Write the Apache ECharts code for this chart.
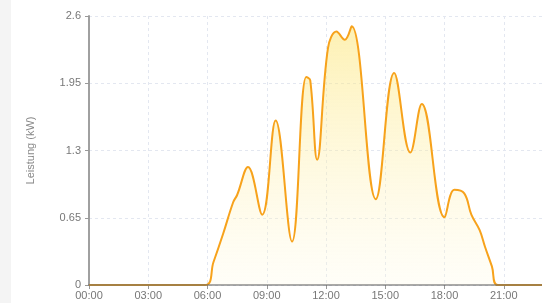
<!DOCTYPE html>
<html>
<head>
	<title></title>
	<script src="https://cdn.jsdelivr.net/npm/echarts@6/dist/echarts.min.js"></script>
	<style>
	html, body{
		margin: 0;
		height: 100%;
		background-color: #f4f4f4;
	}
	#main{
		margin-left: 11px;
		width: 531px;
		height: 303px;
		background-color: #ffffff;
	}
	</style>
</head>
<body>
	<div id="main"></div>
	<script>
		var myChart = echarts.init(document.getElementById("main"));

		// Stunde des Tages
		var hours = [0, 5.87, 6.3, 6.8, 7.3, 7.5, 8.05, 8.77, 9.45, 10.28, 11.0, 11.2, 11.55, 12.1, 12.53, 12.95, 13.3,
			14.52, 15.45, 16.27, 16.85, 18.0, 18.5, 19.0, 19.36, 19.78, 20.05, 20.4, 20.7, 24];
		// Leistung in kW
		var leistung = [0, 0, 0.22, 0.5, 0.8, 0.87, 1.14, 0.68, 1.59, 0.42, 2.01, 1.98, 1.21, 2.29, 2.45, 2.37, 2.5,
			0.83, 2.05, 1.28, 1.75, 0.655, 0.92, 0.885, 0.68, 0.53, 0.37, 0.18, 0, 0];
		var yTicks = [0, 0.65, 1.3, 1.95, 2.6];

		var data = [];
		for (var i = 0; i < hours.length; i++) {
			data.push([hours[i], leistung[i]]);
		}

		var labelColor = '#777';
		var gridColor = '#e3e7f0';
		var font = 'Liberation Sans, Arial, sans-serif';

		option = {
			animation: false,
			grid: {
				left: 78,
				top: 16,
				bottom: 18,
				right: -21,
				outerBoundsMode: 'none'
			},
			xAxis: [{
				type: 'value',
				min: 0,
				max: 24,
				interval: 3,
				axisLine: {show: false},
				axisTick: {show: true, length: 4, lineStyle: {color: '#999'}},
				axisLabel: {
					color: labelColor,
					fontSize: 11,
					margin: 5,
					fontFamily: font,
					formatter: function (v) {
						return (v < 10 ? '0' : '') + v + ':00';
					}
				},
				splitLine: {show: true, lineStyle: {color: gridColor, type: [3, 3]}}
			}, {
				// nur die Achsenlinie, über der Kurve
				type: 'value',
				position: 'bottom',
				min: 0,
				max: 24,
				interval: 3,
				z: 5,
				axisLine: {lineStyle: {color: 'rgba(100,100,100,0.55)', width: 2}},
				axisTick: {show: false},
				axisLabel: {show: false},
				splitLine: {show: false}
			}],
			yAxis: {
				type: 'value',
				min: 0,
				max: yTicks[yTicks.length - 1],
				interval: yTicks[1],
				name: 'Leistung (kW)',
				nameLocation: 'middle',
				nameGap: 53,
				nameTextStyle: {color: '#888', fontSize: 11, fontFamily: font},
				axisLine: {show: true, lineStyle: {color: '#a0a0a0', width: 2}},
				axisTick: {show: true, length: 4, lineStyle: {color: '#999'}},
				axisLabel: {
					color: labelColor,
					fontSize: 11,
					margin: 8,
					fontFamily: font
				},
				splitLine: {show: true, lineStyle: {color: gridColor, type: [3, 3]}}
			},
			series: [{
				type: 'line',
				xAxisIndex: 0,
				data: data,
				smooth: 0.4,
				symbol: 'none',
				lineStyle: {color: '#f7a21b', width: 2},
				areaStyle: {
					color: new echarts.graphic.LinearGradient(0, 0, 0, 1, [
						{offset: 0, color: 'rgba(252,228,110,0.75)'},
						{offset: 1, color: 'rgba(255,250,225,0.35)'}
					])
				}
			}]
		};
		myChart.setOption(option);
	</script>
</body>
</html>
